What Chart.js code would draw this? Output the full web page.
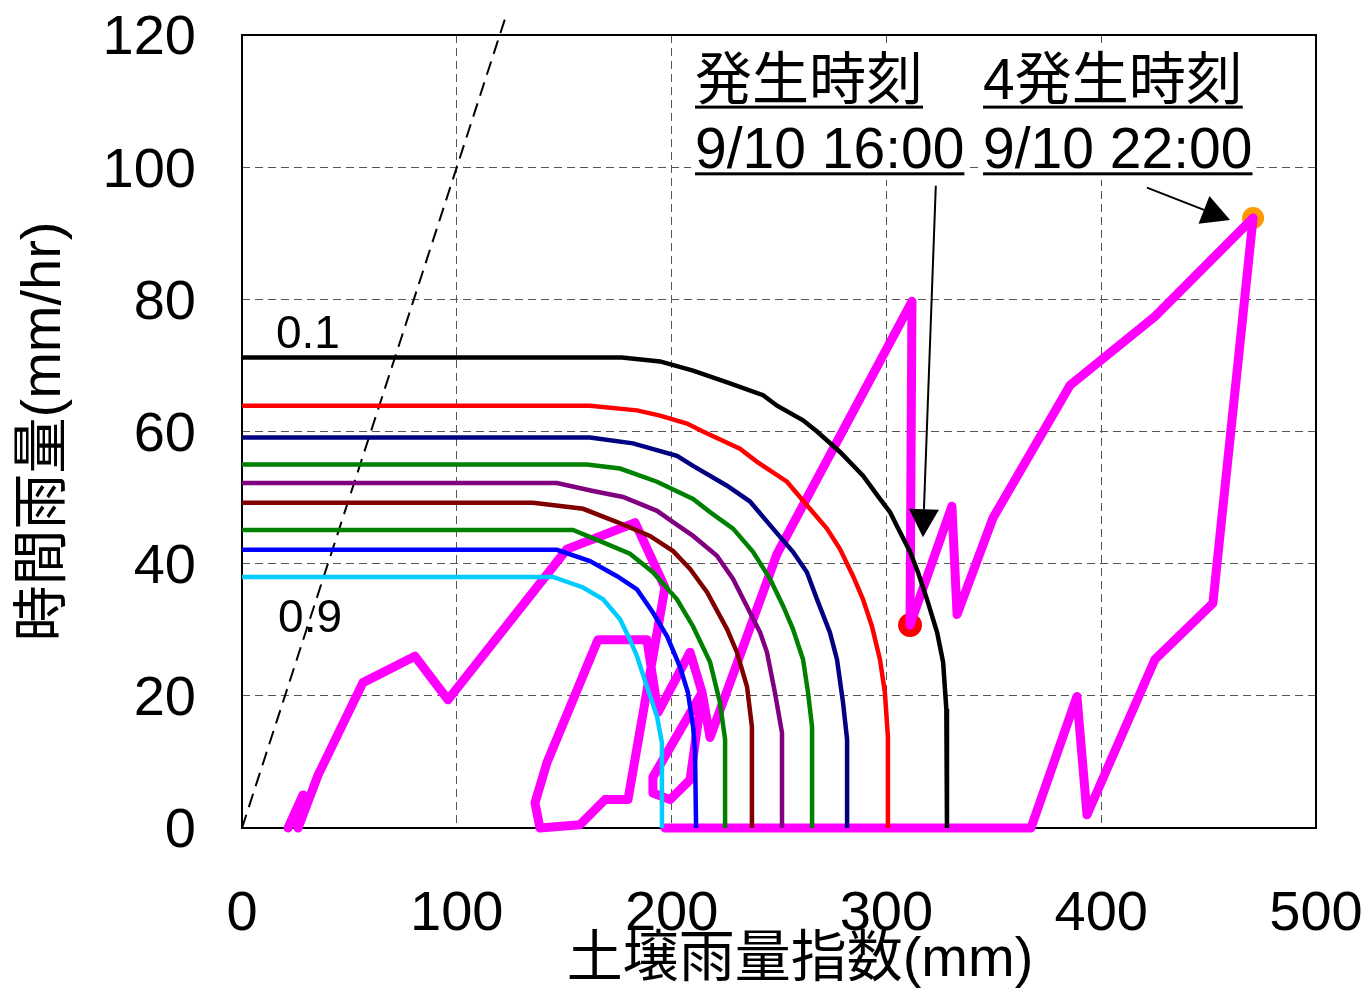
<!DOCTYPE html>
<html>
<head>
<meta charset="utf-8">
<script src="https://cdn.jsdelivr.net/npm/chart.js@4/dist/chart.umd.min.js"></script>
<style>
  html, body { margin: 0; padding: 0; background: #fff; }
  canvas { display: block; }
</style>
</head>
<body>
<canvas id="myChart" width="1369" height="988"></canvas>
<script>
// critical line curves (0.1 ... 0.9), soil index x and hourly rain y
const c01X = [0, 176.9, 194.6, 210.0, 227.2, 242.6, 249.1, 261.2, 267.7, 278.4, 289.1, 297.0, 301.7, 306.3, 311.0, 314.7, 318.9, 323.6, 326.4, 327.9, 328.2];
const c01Y = [71.2, 71.2, 70.6, 69.2, 67.3, 65.5, 63.9, 61.7, 60.0, 56.9, 53.3, 49.8, 47.8, 44.8, 41.8, 38.7, 34.6, 29.6, 25.1, 18.0, 0];
const c02X = [0, 162.0, 183.9, 194.6, 207.2, 214.6, 231.8, 239.8, 253.7, 264.4, 272.3, 278.4, 284.5, 289.1, 293.3, 297.0, 299.3, 300.7, 300.7];
const c02Y = [63.9, 63.9, 63.2, 62.4, 61.2, 60.0, 57.4, 55.4, 52.4, 48.3, 45.3, 42.2, 38.1, 34.6, 30.5, 25.5, 20.5, 13.8, 0];
const c03X = [0, 162.0, 182.0, 202.5, 210.0, 225.8, 236.5, 247.2, 256.5, 263.0, 267.7, 273.7, 277.0, 279.8, 281.7, 281.7];
const c03Y = [59.1, 59.1, 58.2, 56.3, 54.8, 51.8, 49.4, 45.3, 41.8, 38.7, 34.6, 29.6, 25.5, 19.0, 13.4, 0];
const c04X = [0, 160.6, 176.0, 193.2, 210.0, 217.9, 228.6, 237.9, 245.8, 251.9, 256.5, 261.2, 263.5, 265.4, 265.4];
const c04Y = [55.0, 55.0, 54.4, 52.4, 49.8, 47.8, 45.3, 41.8, 37.7, 33.6, 30.1, 25.5, 20.5, 15.3, 0];
const c05X = [0, 146.6, 163.4, 177.4, 193.2, 200.7, 210.0, 221.1, 228.6, 236.5, 241.2, 244.4, 248.1, 251.4, 251.4];
const c05Y = [52.2, 52.2, 51.0, 50.1, 48.0, 46.3, 44.2, 41.2, 37.7, 32.6, 29.6, 26.6, 20.5, 14.4, 0];
const c06X = [0, 135.5, 158.8, 174.6, 189.9, 200.7, 208.6, 216.5, 225.8, 230.4, 235.1, 237.4, 237.4];
const c06Y = [49.2, 49.2, 48.3, 46.3, 44.2, 41.9, 39.2, 35.7, 30.1, 26.6, 21.4, 15.3, 0];
const c07X = [0, 154.1, 166.7, 180.6, 191.3, 202.5, 210.0, 217.9, 222.5, 224.9, 224.9];
const c07Y = [45.1, 45.1, 43.4, 41.5, 38.7, 34.6, 30.5, 25.1, 19.0, 13.4, 0];
const c08X = [0, 146.6, 162.0, 174.6, 183.9, 191.3, 197.9, 203.9, 207.6, 210.0, 210.9, 211.4];
const c08Y = [42.1, 42.1, 40.4, 38.1, 36.1, 32.6, 29.0, 24.4, 20.5, 15.3, 11.8, 0];
const c09X = [0, 144.8, 158.8, 168.1, 176.0, 180.6, 183.9, 188.5, 193.2, 195.5, 195.5];
const c09Y = [38.0, 38.0, 36.4, 34.6, 31.6, 28.5, 26.0, 21.4, 16.9, 12.9, 0];

// snake line (hourly)
const snakeX = [21.4, 28.4, 26.1, 35.4, 56.3, 80.5, 95.9, 151.3, 183.0, 196.9, 179.7, 169.0, 157.4, 138.7, 136.4, 142.0, 165.7, 188.5, 193.7, 208.6, 214.2, 208.6, 199.3, 191.3, 191.3, 214.2, 217.9, 249.1, 311.9, 311.0, 330.5, 332.9, 349.6, 385.5, 425.0, 470.7, 452.0, 425.0, 393.4, 388.7, 367.3, 196.9];
const snakeY = [0, 5.0, 0, 8.0, 22.0, 26.0, 19.4, 42.2, 46.2, 36.4, 4.3, 4.3, 0.5, 0, 3.8, 9.9, 28.5, 28.5, 17.5, 26.6, 20.5, 7.3, 4.3, 5.3, 7.7, 20.5, 13.7, 41.5, 79.7, 30.7, 48.7, 32.3, 46.9, 67.0, 77.4, 92.3, 34.0, 25.5, 2.0, 19.9, 0, 0];

// occurrence points
const eventX = [311.0, 470.7];
const eventY = [30.7, 92.3];
const eventTitles = ["発生時刻", "4発生時刻"];
const eventTimes = ["9/10 16:00", "9/10 22:00"];

// dashed reference line
const refX = [0, 122.4];
const refY = [0, 122.4];

const xTicks = [0, 100, 200, 300, 400, 500];
const yTicks = [0, 20, 40, 60, 80, 100, 120];
const xTitle = "土壌雨量指数(mm)";
const yTitle = "時間雨量(mm/hr)";

const FONT = '"Liberation Sans", Arial, "Noto Sans CJK JP", sans-serif';
Chart.defaults.font.family = FONT;
Chart.defaults.color = "#000";

function pairUp(xs, ys) {
  return xs.map((v, i) => ({ x: v, y: ys[i] }));
}

function lineSet(label, xs, ys, color, width) {
  return {
    label: label,
    data: pairUp(xs, ys),
    borderColor: color,
    backgroundColor: color,
    borderWidth: width,
    showLine: true,
    pointRadius: 0,
    tension: 0,
    fill: false,
  };
}

const curves = [
  ["0.1", c01X, c01Y, "#000000"],
  ["0.2", c02X, c02Y, "#ff0000"],
  ["0.3", c03X, c03Y, "#000080"],
  ["0.4", c04X, c04Y, "#008000"],
  ["0.5", c05X, c05Y, "#800080"],
  ["0.6", c06X, c06Y, "#800000"],
  ["0.7", c07X, c07Y, "#008000"],
  ["0.8", c08X, c08Y, "#0000ff"],
  ["0.9", c09X, c09Y, "#00ccff"],
];

let datasets = curves.map((c) => lineSet(c[0], c[1], c[2], c[3], 4.5));

let ref = lineSet("ref", refX, refY, "#000", 2);
ref.borderDash = [14, 8];
ref.clip = false;
datasets.push(ref);

let snake = lineSet("snake", snakeX, snakeY, "#ff00ff", 9);
snake.borderJoinStyle = "round";
snake.borderCapStyle = "round";
snake.clip = false;
datasets.push(snake);

datasets.push({
  label: "events",
  data: pairUp(eventX, eventY),
  showLine: false,
  pointRadius: [12, 11],
  pointBackgroundColor: ["#ff0000", "#ff9900"],
  pointBorderWidth: 0,
  clip: false,
});

function drawArrow(ctx, x1, y1, x2, y2) {
  const ang = Math.atan2(y2 - y1, x2 - x1);
  const len = 28, half = 15;
  const bx = x2 - len * Math.cos(ang), by = y2 - len * Math.sin(ang);
  ctx.beginPath();
  ctx.moveTo(x1, y1);
  ctx.lineTo(bx, by);
  ctx.stroke();
  ctx.beginPath();
  ctx.moveTo(x2, y2);
  ctx.lineTo(bx + half * Math.sin(ang), by - half * Math.cos(ang));
  ctx.lineTo(bx - half * Math.sin(ang), by + half * Math.cos(ang));
  ctx.closePath();
  ctx.fill();
}

// no label overflow padding, the layout padding alone sets the plot box
function noPad(s) {
  s.paddingTop = 0;
  s.paddingBottom = 0;
  s.paddingLeft = 0;
  s.paddingRight = 0;
}

const notes = {
  id: "notes",
  left: [210.9, 345.0],
  titleBase: 110.3,
  timeBase: 99.9,
  arrows: [[323.0, 97.2, 317.0, 44.0], [421.3, 96.9, 460.0, 92.0]],
  beforeDatasetsDraw(chart) {
    const { ctx, chartArea: a, scales: { x, y } } = chart;
    ctx.save();
    ctx.font = "57px " + FONT;
    ctx.fillStyle = "#fff";
    this.left.forEach((lx, i) => {
      const w = Math.max(ctx.measureText(eventTitles[i]).width, ctx.measureText(eventTimes[i]).width);
      const px = x.getPixelForValue(lx);
      const top = y.getPixelForValue(this.titleBase) - 52;
      const bot = y.getPixelForValue(this.timeBase) + 12;
      ctx.fillRect(px - 4, top, w + 8, bot - top);
    });
    ctx.strokeStyle = "#000";
    ctx.lineWidth = 2;
    ctx.strokeRect(a.left, a.top, a.right - a.left, a.bottom - a.top);

    // axis titles
    ctx.fillStyle = "#000";
    ctx.font = "56px " + FONT;
    ctx.textAlign = "center";
    ctx.textBaseline = "middle";
    ctx.fillText(xTitle, (a.left + a.right) / 2 + 21, a.bottom + 133);
    ctx.translate(45, (a.top + a.bottom) / 2);
    ctx.rotate(-Math.PI / 2);
    ctx.fillText(yTitle, 0, 0);
    ctx.restore();
  },
  afterDatasetsDraw(chart) {
    const { ctx, scales: { x, y } } = chart;
    ctx.save();
    ctx.fillStyle = "#000";
    ctx.strokeStyle = "#000";
    ctx.font = "57px " + FONT;
    ctx.textBaseline = "alphabetic";
    ctx.textAlign = "left";
    this.left.forEach((lx, i) => {
      const px = x.getPixelForValue(lx);
      const rows = [[eventTitles[i], this.titleBase, 8], [eventTimes[i], this.timeBase, 6]];
      rows.forEach((r) => {
        const py = y.getPixelForValue(r[1]);
        ctx.fillText(r[0], px, py);
        const w = ctx.measureText(r[0]).width;
        ctx.fillRect(px, py + r[2] - 1.5, w, 3);
      });
    });
    ctx.lineWidth = 2;
    this.arrows.forEach((ar) => {
      drawArrow(ctx, x.getPixelForValue(ar[0]), y.getPixelForValue(ar[1]),
        x.getPixelForValue(ar[2]), y.getPixelForValue(ar[3]));
    });
    // curve labels
    ctx.font = "46px " + FONT;
    ctx.textAlign = "center";
    ctx.textBaseline = "middle";
    ctx.fillText("0.1", x.getPixelForValue(30.7), y.getPixelForValue(74.6));
    ctx.fillText("0.9", x.getPixelForValue(31.7), y.getPixelForValue(31.6));
    ctx.restore();
  },
};

const myChart = new Chart(document.querySelector("#myChart").getContext("2d"), {
  type: "scatter",
  data: { datasets: datasets },
  options: {
    responsive: false,
    animation: false,
    events: [],
    layout: { padding: { left: 0, right: 53, top: 35, bottom: 0 } },
    plugins: { legend: { display: false }, tooltip: { enabled: false } },
    scales: {
      x: {
        type: "linear",
        min: 0,
        max: 500,
        afterBuildTicks: (s) => { s.ticks = xTicks.map((v) => ({ value: v })); },
        ticks: { font: { size: 56 }, color: "#000", padding: 53, maxRotation: 0, autoSkip: false },
        grid: { color: "#555", lineWidth: 1, drawTicks: false },
        border: { display: false, dash: [8, 5] },
        afterFit: (s) => { s.height = 160; noPad(s); },
      },
      y: {
        type: "linear",
        min: 0,
        max: 120,
        afterBuildTicks: (s) => { s.ticks = yTicks.map((v) => ({ value: v })); },
        ticks: { font: { size: 56 }, color: "#000", padding: 46, labelOffset: 4, autoSkip: false },
        grid: { color: "#555", lineWidth: 1, drawTicks: false },
        border: { display: false, dash: [8, 5] },
        afterFit: (s) => { s.width = 242; noPad(s); },
      },
    },
  },
  plugins: [notes],
});
</script>
</body>
</html>
